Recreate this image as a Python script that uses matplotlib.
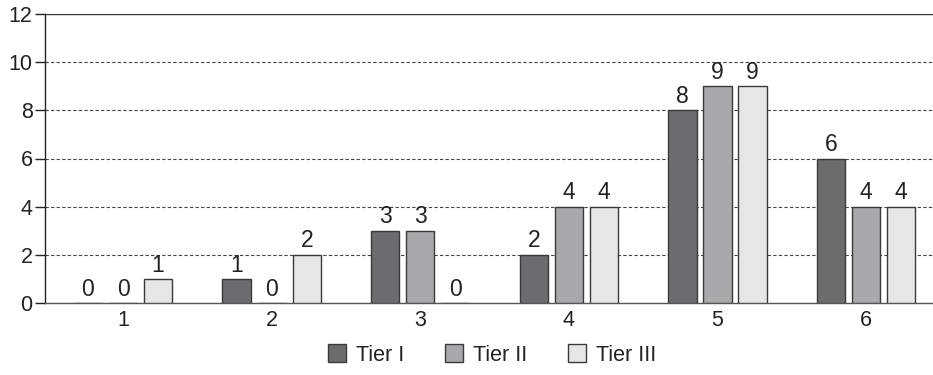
import matplotlib
matplotlib.use("Agg")
import matplotlib.pyplot as plt
import numpy as np

plt.rcParams['font.family'] = ['Liberation Sans', 'DejaVu Sans']

categories = ["1", "2", "3", "4", "5", "6"]
series_names = ["Tier I", "Tier II", "Tier III"]
tier1 = [0, 1, 3, 2, 8, 6]
tier2 = [0, 0, 3, 4, 9, 4]
tier3 = [1, 2, 0, 4, 9, 4]
colors = ["#6b6c70", "#a7a8ab", "#e5e6e8"]

fig = plt.figure(figsize=(9.33, 3.75), dpi=100)
ax = fig.add_axes([45 / 933, 1 - 303 / 375, 888 / 933, 289 / 375])

x = np.arange(1, len(categories) + 1)
offset = 0.236
width = 0.19
for i, (vals, name, c) in enumerate(zip([tier1, tier2, tier3], series_names, colors)):
    pos = x + (i - 1) * offset
    ax.bar(pos, vals, width=width, color=c, edgecolor="#3a3a3a", linewidth=1.0,
           label=name, zorder=3)
    for p, v in zip(pos, vals):
        ax.text(p, v + 0.1, str(v), ha="center", va="bottom", fontsize=16.5,
                color="#222222", zorder=4)

ax.set_ylim(0, 12)
ax.set_xlim(0.475, 6.45)
ax.set_yticks(np.arange(0, 13, 2))
ax.set_xticks(x)
ax.set_xticklabels(categories)
ax.tick_params(axis="y", direction="out", length=7, width=1, labelsize=15.5,
               colors="#222222", pad=2)
ax.tick_params(axis="x", length=0, labelsize=15.5, colors="#222222", pad=5)

for yv in range(2, 12, 2):
    ax.axhline(yv, color="#444444", linestyle=(0, (3, 2)), linewidth=0.8, zorder=1)
ax.axhline(12, color="#333333", linewidth=1.0, zorder=1)

for s in ["top", "right"]:
    ax.spines[s].set_visible(False)
ax.spines["left"].set_color("#222222")
ax.spines["bottom"].set_color("#555555")
ax.spines["left"].set_linewidth(1.0)
ax.spines["bottom"].set_linewidth(1.0)

leg = fig.legend(loc="center", bbox_to_anchor=(492 / 933, 1 - 355 / 375), ncol=3,
                 frameon=False, fontsize=15.5, handlelength=0.85, handleheight=0.85,
                 handletextpad=0.45, columnspacing=1.9)
for t in leg.get_texts():
    t.set_color("#222222")

fig.savefig("out.png", dpi=100)
